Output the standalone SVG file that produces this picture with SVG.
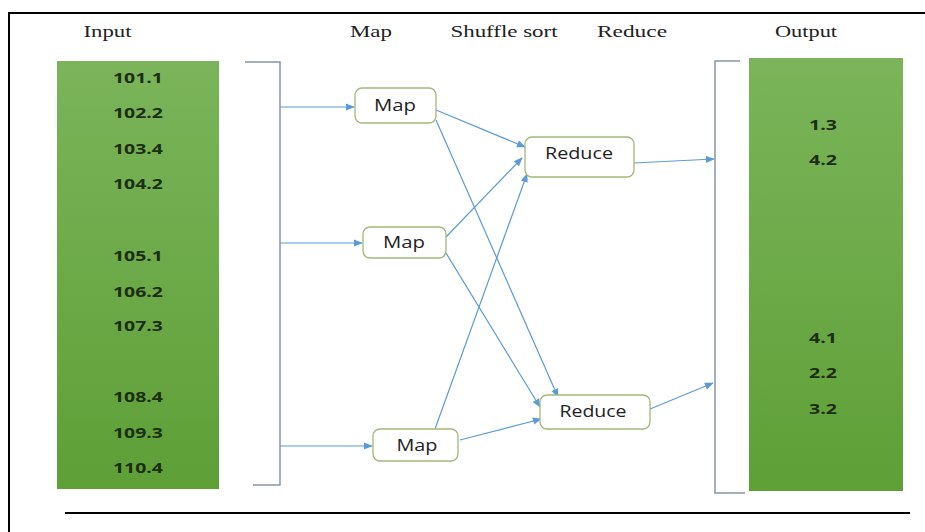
<svg xmlns="http://www.w3.org/2000/svg" width="925" height="532" viewBox="0 0 925 532">
  <defs>
    <linearGradient id="greenFill" x1="0" y1="0" x2="0" y2="1">
      <stop offset="0" stop-color="#7bb45a"/>
      <stop offset="1" stop-color="#5e9f36"/>
    </linearGradient>
    <marker id="arrow" viewBox="0 0 10 10" refX="9" refY="5" markerWidth="9" markerHeight="9" markerUnits="userSpaceOnUse" orient="auto">
      <path d="M0,1 L10,5 L0,9 z" fill="#5b9bd5"/>
    </marker>
    <style>
      .frame { stroke: #000; stroke-width: 2; fill: none; }
      .head { font-family: "Liberation Serif", "Times New Roman", serif; font-size: 16px; fill: #222; text-anchor: middle; }
      .val { font-family: "Open Sans", "DejaVu Sans", sans-serif; font-weight: bold; font-size: 14.5px; fill: #1c2e12; text-anchor: middle; }
      .col { fill: url(#greenFill); }
      .bracket { stroke: #8596a8; stroke-width: 1.5; fill: none; }
      .box { fill: #fff; stroke: #a3b878; stroke-width: 1.3; }
      .lbl { font-family: "Open Sans", "DejaVu Sans", sans-serif; font-size: 15.5px; fill: #222; text-anchor: middle; }
      .link { stroke: #5b9bd5; stroke-width: 1.2; fill: none; marker-end: url(#arrow); }
    </style>
  </defs>

  <rect width="925" height="532" fill="#fff"/>

  <!-- page frame -->
  <path class="frame" d="M9,532 V13 H925"/>
  <line class="frame" x1="65" y1="513" x2="910" y2="513"/>

  <!-- column headings (wide set) -->
  <g id="headings">
    <text class="head" x="107.5" y="37" textLength="48" lengthAdjust="spacingAndGlyphs">Input</text>
    <text class="head" x="371" y="37" textLength="42" lengthAdjust="spacingAndGlyphs">Map</text>
    <text class="head" x="504" y="37" textLength="107" lengthAdjust="spacingAndGlyphs">Shuffle sort</text>
    <text class="head" x="632" y="37" textLength="70" lengthAdjust="spacingAndGlyphs">Reduce</text>
    <text class="head" x="806" y="37" textLength="62" lengthAdjust="spacingAndGlyphs">Output</text>
  </g>

  <!-- input records -->
  <g id="input">
    <rect class="col" x="57" y="61" width="162" height="428"/>
    <text class="val" x="138" y="83" textLength="50" lengthAdjust="spacingAndGlyphs">101.1</text>
    <text class="val" x="138" y="118" textLength="50" lengthAdjust="spacingAndGlyphs">102.2</text>
    <text class="val" x="138" y="154" textLength="50" lengthAdjust="spacingAndGlyphs">103.4</text>
    <text class="val" x="138" y="189" textLength="50" lengthAdjust="spacingAndGlyphs">104.2</text>
    <text class="val" x="138" y="261" textLength="50" lengthAdjust="spacingAndGlyphs">105.1</text>
    <text class="val" x="138" y="297" textLength="50" lengthAdjust="spacingAndGlyphs">106.2</text>
    <text class="val" x="138" y="331" textLength="50" lengthAdjust="spacingAndGlyphs">107.3</text>
    <text class="val" x="138" y="402" textLength="50" lengthAdjust="spacingAndGlyphs">108.4</text>
    <text class="val" x="138" y="438" textLength="50" lengthAdjust="spacingAndGlyphs">109.3</text>
    <text class="val" x="138" y="473" textLength="50" lengthAdjust="spacingAndGlyphs">110.4</text>
  </g>

  <!-- output records -->
  <g id="output">
    <rect class="col" x="749" y="58" width="154" height="433"/>
    <text class="val" x="823" y="130" textLength="28" lengthAdjust="spacingAndGlyphs">1.3</text>
    <text class="val" x="823" y="165" textLength="28" lengthAdjust="spacingAndGlyphs">4.2</text>
    <text class="val" x="823" y="343" textLength="28" lengthAdjust="spacingAndGlyphs">4.1</text>
    <text class="val" x="823" y="378" textLength="28" lengthAdjust="spacingAndGlyphs">2.2</text>
    <text class="val" x="823" y="414" textLength="28" lengthAdjust="spacingAndGlyphs">3.2</text>
  </g>

  <!-- brackets -->
  <g id="input-bracket">
    <path class="bracket" d="M245,62 H280 V485 H253"/>
  </g>
  <g id="output-bracket">
    <path class="bracket" d="M740,61 H715 V493 H745"/>
  </g>

  <!-- connectors -->
  <g id="connectors">
    <line class="link" x1="280" y1="107" x2="354" y2="107"/>
    <line class="link" x1="280" y1="243" x2="362" y2="243"/>
    <line class="link" x1="280" y1="446" x2="372" y2="446"/>
    <line class="link" x1="436" y1="110" x2="525" y2="147"/>
    <line class="link" x1="436" y1="120" x2="558" y2="397"/>
    <line class="link" x1="446" y1="237" x2="522" y2="158"/>
    <line class="link" x1="446" y1="253" x2="540" y2="407"/>
    <line class="link" x1="435" y1="429" x2="527" y2="174"/>
    <line class="link" x1="460" y1="440" x2="541" y2="419"/>
    <line class="link" x1="634" y1="163" x2="714" y2="159"/>
    <line class="link" x1="650" y1="409" x2="713" y2="383"/>
  </g>

  <!-- map tasks -->
  <g id="map1">
    <rect class="box" x="355" y="88" width="81" height="35" rx="7"/>
    <text class="lbl" x="395" y="111" textLength="42" lengthAdjust="spacingAndGlyphs">Map</text>
  </g>
  <g id="map2">
    <rect class="box" x="363" y="227" width="83" height="31" rx="7"/>
    <text class="lbl" x="404" y="248" textLength="42" lengthAdjust="spacingAndGlyphs">Map</text>
  </g>
  <g id="map3">
    <rect class="box" x="373" y="429" width="85" height="32" rx="7"/>
    <text class="lbl" x="417" y="451" textLength="41" lengthAdjust="spacingAndGlyphs">Map</text>
  </g>

  <!-- reduce tasks -->
  <g id="reduce1">
    <rect class="box" x="525" y="137" width="109" height="40" rx="7"/>
    <text class="lbl" x="579" y="159" textLength="68" lengthAdjust="spacingAndGlyphs">Reduce</text>
  </g>
  <g id="reduce2">
    <rect class="box" x="540" y="395" width="110" height="34" rx="7"/>
    <text class="lbl" x="593" y="417" textLength="67" lengthAdjust="spacingAndGlyphs">Reduce</text>
  </g>
</svg>
